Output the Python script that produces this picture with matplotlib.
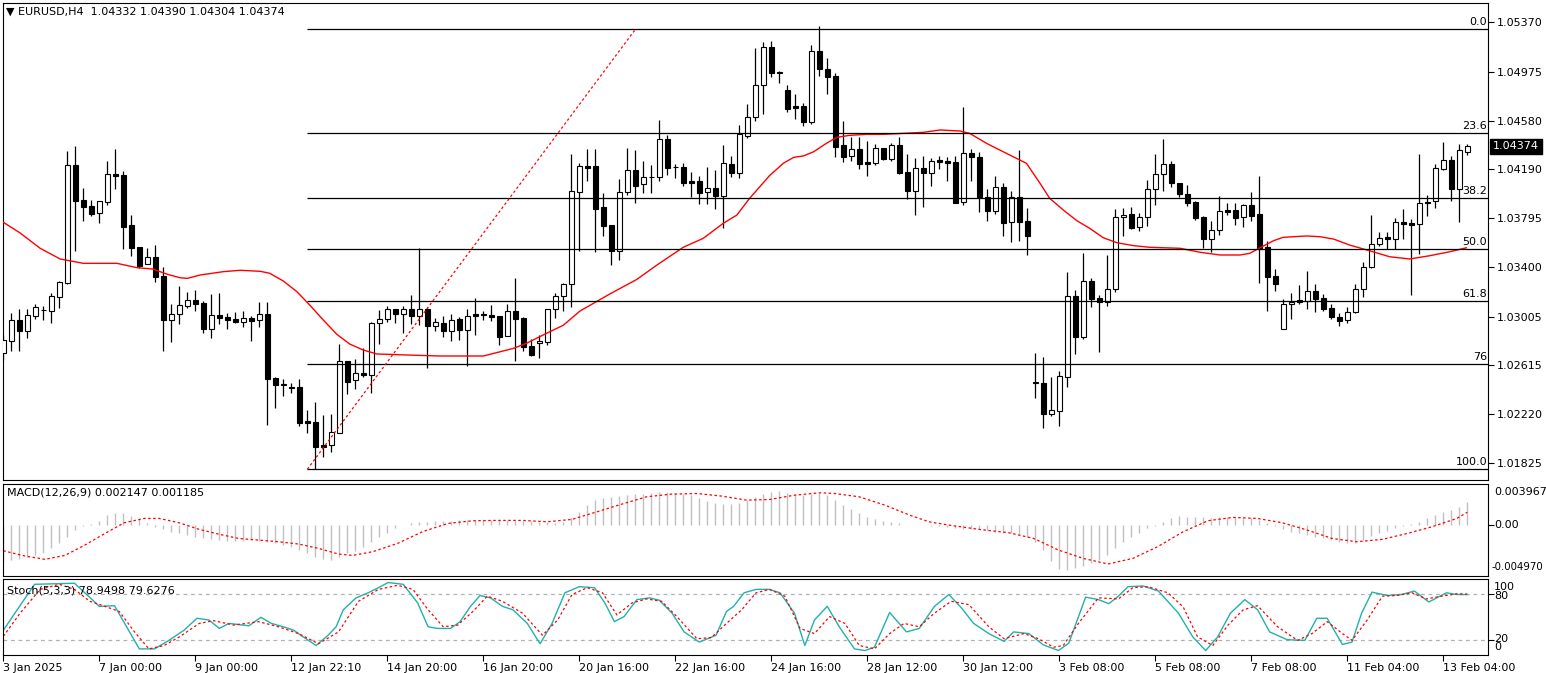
import numpy as np
import matplotlib.pyplot as plt
from matplotlib.ticker import FormatStrFormatter
from matplotlib.transforms import blended_transform_factory

plt.rcParams['font.family'] = ['DejaVu Sans']
plt.rcParams['font.size'] = 8

# EURUSD H4 candles
opens = [1.02712, 1.02810, 1.02977, 1.02891, 1.03011, 1.03058, 1.03052, 1.03165, 1.03272, 1.04223,
         1.03942, 1.03894, 1.03835, 1.03928, 1.04151, 1.04143, 1.03741, 1.03564, 1.03425, 1.03484,
         1.03331, 1.02977, 1.03023, 1.03092, 1.03136, 1.03111, 1.02907, 1.03015, 1.02999, 1.02985,
         1.02964, 1.02993, 1.02975, 1.03023, 1.02508, 1.02460, 1.02436, 1.02436, 1.02165, 1.02157,
         1.01970, 1.01970, 1.02071, 1.02645, 1.02492, 1.02551, 1.02537, 1.02951, 1.02983, 1.03063,
         1.03023, 1.03063, 1.03012, 1.03063, 1.02931, 1.02951, 1.02891, 1.02985, 1.02897, 1.03026,
         1.03023, 1.03017, 1.03009, 1.02851, 1.03050, 1.02991, 1.02768, 1.02790, 1.02803, 1.03063,
         1.03173, 1.03264, 1.04009, 1.04215, 1.04215, 1.03886, 1.03741, 1.03534, 1.04009, 1.04181,
         1.04068, 1.04127, 1.04124, 1.04430, 1.04210, 1.04207, 1.04095, 1.04095, 1.04009, 1.04036,
         1.03977, 1.04229, 1.04162, 1.04459, 1.04612, 1.04864, 1.05170, 1.04974, 1.04826, 1.04698,
         1.04698, 1.04572, 1.05138, 1.04993, 1.04939, 1.04384, 1.04298, 1.04352, 1.04248, 1.04242,
         1.04360, 1.04274, 1.04384, 1.04167, 1.04017, 1.04199, 1.04162, 1.04264, 1.04256, 1.04248,
         1.03923, 1.04317, 1.04285, 1.03969, 1.03856, 1.04044, 1.03763, 1.03964, 1.03773, 1.02476,
         1.02468, 1.02219, 1.02248, 1.02521, 1.03170, 1.02843, 1.03291, 1.03152, 1.03119, 1.03224,
         1.03803, 1.03829, 1.03722, 1.03803, 1.04028, 1.04149, 1.04229, 1.04076, 1.03988, 1.03926,
         1.03803, 1.03626, 1.03698, 1.03862, 1.03862, 1.03803, 1.03899, 1.03827, 1.03562, 1.03331,
         1.02902, 1.03103, 1.03138, 1.03132, 1.03208, 1.03154, 1.03071, 1.03004, 1.02977, 1.03039,
         1.03224, 1.03401, 1.03586, 1.03642, 1.03626, 1.03763, 1.03755, 1.03747, 1.03928, 1.03934,
         1.04191, 1.04264, 1.04033, 1.04332]
highs = [1.02857, 1.03036, 1.03066, 1.03066, 1.03106, 1.03090, 1.03192, 1.03293, 1.04336, 1.04376,
         1.04036, 1.03942, 1.03934, 1.04256, 1.04352, 1.04175, 1.03821, 1.03564, 1.03558, 1.03578,
         1.03403, 1.03106, 1.03251, 1.03200, 1.03218, 1.03130, 1.03186, 1.03194, 1.03031, 1.03042,
         1.03050, 1.03009, 1.03122, 1.03122, 1.02521, 1.02500, 1.02468, 1.02500, 1.02254, 1.02318,
         1.02211, 1.02221, 1.02784, 1.02645, 1.02664, 1.02752, 1.02961, 1.03058, 1.03090, 1.03063,
         1.03090, 1.03178, 1.03554, 1.03084, 1.02991, 1.03012, 1.03026, 1.03004, 1.03063, 1.03152,
         1.03052, 1.03098, 1.03009, 1.03106, 1.03312, 1.03004, 1.02822, 1.02857, 1.03063, 1.03197,
         1.03277, 1.04312, 1.04237, 1.04352, 1.04352, 1.03996, 1.03741, 1.04111, 1.04363, 1.04344,
         1.04256, 1.04223, 1.04585, 1.04462, 1.04231, 1.04240, 1.04165, 1.04137, 1.04210, 1.04183,
         1.04384, 1.04296, 1.04543, 1.04714, 1.05162, 1.05210, 1.05220, 1.04982, 1.04867, 1.04794,
         1.04724, 1.05188, 1.05341, 1.05086, 1.04961, 1.04577, 1.04451, 1.04451, 1.04416, 1.04392,
         1.04360, 1.04403, 1.04446, 1.04312, 1.04282, 1.04296, 1.04282, 1.04296, 1.04290, 1.04296,
         1.04692, 1.04352, 1.04330, 1.04028, 1.04135, 1.04081, 1.04014, 1.04344, 1.03876, 1.02709,
         1.02677, 1.02521, 1.02567, 1.03366, 1.03218, 1.03513, 1.03317, 1.03178, 1.03500, 1.03870,
         1.03880, 1.03888, 1.03835, 1.04103, 1.04312, 1.04432, 1.04256, 1.04076, 1.04063, 1.03934,
         1.03813, 1.03773, 1.03974, 1.03916, 1.03916, 1.03910, 1.04006, 1.04135, 1.03612, 1.03387,
         1.03146, 1.03194, 1.03259, 1.03371, 1.03264, 1.03186, 1.03106, 1.03034, 1.03084, 1.03264,
         1.03441, 1.03821, 1.03682, 1.03682, 1.03795, 1.03867, 1.03787, 1.04310, 1.03982, 1.04229,
         1.04411, 1.04298, 1.04392, 1.04390]
lows = [1.02656, 1.02730, 1.02730, 1.02835, 1.02985, 1.02977, 1.02955, 1.03076, 1.03267, 1.03534,
        1.03775, 1.03813, 1.03759, 1.03902, 1.04030, 1.03548, 1.03492, 1.03393, 1.03425, 1.03283,
        1.02730, 1.02803, 1.02947, 1.03076, 1.03050, 1.02875, 1.02835, 1.02947, 1.02907, 1.02955,
        1.02923, 1.02810, 1.02921, 1.02135, 1.02272, 1.02369, 1.02388, 1.02127, 1.02071, 1.01777,
        1.01878, 1.01918, 1.02071, 1.02385, 1.02425, 1.02521, 1.02393, 1.02787, 1.02963, 1.02955,
        1.02870, 1.02943, 1.02937, 1.02589, 1.02889, 1.02843, 1.02810, 1.02816, 1.02610, 1.02857,
        1.02977, 1.02972, 1.02776, 1.02851, 1.02650, 1.02730, 1.02688, 1.02669, 1.02776, 1.02991,
        1.03052, 1.03084, 1.03534, 1.04097, 1.03526, 1.03655, 1.03419, 1.03460, 1.03982, 1.03920,
        1.03996, 1.04001, 1.04097, 1.04143, 1.04121, 1.04057, 1.03966, 1.03907, 1.03907, 1.03872,
        1.03719, 1.04127, 1.04121, 1.04438, 1.04580, 1.04633, 1.04929, 1.04885, 1.04652, 1.04596,
        1.04539, 1.04551, 1.04941, 1.04794, 1.04290, 1.04250, 1.04258, 1.04194, 1.04135, 1.04223,
        1.04264, 1.04256, 1.04151, 1.03952, 1.03824, 1.03888, 1.04057, 1.04194, 1.04097, 1.03915,
        1.03902, 1.04097, 1.03848, 1.03775, 1.03829, 1.03655, 1.03607, 1.03615, 1.03502, 1.02353,
        1.02106, 1.02208, 1.02127, 1.02436, 1.02704, 1.02824, 1.03084, 1.02722, 1.03092, 1.03202,
        1.03655, 1.03709, 1.03695, 1.03733, 1.03902, 1.04017, 1.04049, 1.03969, 1.03896, 1.03781,
        1.03558, 1.03526, 1.03661, 1.03824, 1.03741, 1.03727, 1.03773, 1.03277, 1.03052, 1.03213,
        1.02902, 1.02985, 1.03103, 1.03068, 1.03044, 1.03050, 1.02985, 1.02929, 1.02953, 1.03031,
        1.03165, 1.03393, 1.03575, 1.03548, 1.03548, 1.03628, 1.03178, 1.03505, 1.03816, 1.03875,
        1.04183, 1.03934, 1.03763, 1.04304]
closes = [1.02816, 1.02977, 1.02891, 1.03017, 1.03079, 1.03060, 1.03170, 1.03280, 1.04223, 1.03936,
          1.03888, 1.03829, 1.03934, 1.04151, 1.04137, 1.03727, 1.03558, 1.03411, 1.03484, 1.03325,
          1.02977, 1.03023, 1.03095, 1.03136, 1.03108, 1.02907, 1.03015, 1.02996, 1.02977, 1.02964,
          1.02991, 1.02972, 1.03023, 1.02505, 1.02457, 1.02458, 1.02434, 1.02151, 1.02151, 1.01959,
          1.01959, 1.02077, 1.02645, 1.02481, 1.02549, 1.02535, 1.02951, 1.02985, 1.03063, 1.03023,
          1.03063, 1.03012, 1.03063, 1.02931, 1.02959, 1.02891, 1.02977, 1.02897, 1.03012, 1.03012,
          1.03021, 1.03001, 1.02843, 1.03050, 1.02985, 1.02762, 1.02696, 1.02808, 1.03063, 1.03170,
          1.03267, 1.04014, 1.04215, 1.04202, 1.03872, 1.03735, 1.03534, 1.04009, 1.04181, 1.04057,
          1.04124, 1.04125, 1.04430, 1.04202, 1.04208, 1.04081, 1.04081, 1.04001, 1.04036, 1.03977,
          1.04237, 1.04162, 1.04473, 1.04612, 1.04864, 1.05170, 1.04961, 1.04961, 1.04676, 1.04684,
          1.04572, 1.05138, 1.04998, 1.04933, 1.04371, 1.04290, 1.04352, 1.04231, 1.04234, 1.04360,
          1.04274, 1.04384, 1.04159, 1.04017, 1.04199, 1.04159, 1.04256, 1.04250, 1.04242, 1.03920,
          1.04317, 1.04285, 1.03964, 1.03856, 1.04044, 1.03760, 1.03969, 1.03768, 1.03655, 1.02474,
          1.02219, 1.02251, 1.02527, 1.03170, 1.02843, 1.03291, 1.03146, 1.03119, 1.03224, 1.03803,
          1.03821, 1.03714, 1.03803, 1.04028, 1.04149, 1.04229, 1.04076, 1.03988, 1.03920, 1.03800,
          1.03626, 1.03701, 1.03854, 1.03848, 1.03800, 1.03899, 1.03816, 1.03546, 1.03325, 1.03264,
          1.03106, 1.03124, 1.03119, 1.03208, 1.03148, 1.03068, 1.03004, 1.02969, 1.03039, 1.03224,
          1.03401, 1.03588, 1.03634, 1.03626, 1.03763, 1.03751, 1.03743, 1.03915, 1.03915, 1.04197,
          1.04264, 1.04033, 1.04344, 1.04374]

# moving average (red line), sampled at bar positions
ma_bars = [0, 2.1, 4.6, 7.1, 10.0, 14.2, 16.7, 18.7, 20.5, 22.1,
           23.0, 24.6, 27.5, 29.6, 32.1, 33.3, 35.0, 36.7, 38.3, 40.0,
           41.7, 43.3, 45.0, 46.7, 48.3, 50.4, 54.6, 60.0, 61.3, 63.8,
           65.4, 67.9, 70.0, 72.1, 75.8, 79.2, 81.7, 85.0, 87.5, 90.0,
           91.7, 93.3, 95.8, 97.5, 98.8, 100.0, 101.3, 102.9, 104.2, 105.8,
           107.9, 110.0, 112.5, 115.0, 117.1, 119.6, 120.8, 122.9, 125.0, 127.9,
           129.6, 130.8, 132.5, 134.2, 135.8, 137.5, 139.2, 141.3, 143.3, 147.1,
           149.6, 152.1, 154.6, 155.8, 157.1, 158.8, 160.0, 162.9, 164.6, 166.3,
           168.3, 170.8, 173.3, 175.8, 178.3, 180.8, 182.9]
ma_vals = [1.03763, 1.03677, 1.03554, 1.03468, 1.03433, 1.03433, 1.03398, 1.03387, 1.03345, 1.03317,
           1.03312, 1.03339, 1.03366, 1.03377, 1.03369, 1.03353, 1.03291, 1.03205, 1.03098, 1.02977,
           1.02862, 1.02784, 1.02736, 1.02704, 1.02701, 1.02696, 1.02688, 1.02688, 1.02709, 1.02750,
           1.02790, 1.02870, 1.02935, 1.03050, 1.03186, 1.03304, 1.03419, 1.03562, 1.03634, 1.03755,
           1.03821, 1.03956, 1.04139, 1.04237, 1.04285, 1.04296, 1.04330, 1.04398, 1.04446, 1.04462,
           1.04470, 1.04470, 1.04478, 1.04486, 1.04505, 1.04497, 1.04478, 1.04398, 1.04330, 1.04237,
           1.04076, 1.03956, 1.03862, 1.03776, 1.03715, 1.03639, 1.03599, 1.03575, 1.03562, 1.03554,
           1.03522, 1.03500, 1.03500, 1.03513, 1.03558, 1.03615, 1.03642, 1.03653, 1.03647, 1.03628,
           1.03580, 1.03534, 1.03486, 1.03468, 1.03494, 1.03526, 1.03558]

# fibonacci retracement anchors
fib_bar_low, fib_low = 38, 1.01777
fib_bar_high, fib_high = 79, 1.05313
fib_ratios = [0.0, 23.6, 38.2, 50.0, 61.8, 76.0, 100.0]
fib_labels = ['0.0', '23.6', '38.2', '50.0', '61.8', '76', '100.0']

price_ticks = [1.05370, 1.04975, 1.04580, 1.04190, 1.03795, 1.03400, 1.03005, 1.02615, 1.02220, 1.01825]
last_price = 1.04374

# MACD(12,26,9)
macd_main = [-0.00359, -0.00343, -0.00336, -0.00317, -0.00294, -0.00272, -0.00230, -0.00182, -0.00118, -0.00053,
             -0.00015, 0.00005, 0.00037, 0.00091, 0.00114, 0.00107, 0.00082, 0.00050, 0.00017, -0.00021,
             -0.00047, -0.00069, -0.00086, -0.00102, -0.00118, -0.00134, -0.00143, -0.00150, -0.00156, -0.00159,
             -0.00156, -0.00150, -0.00156, -0.00166, -0.00182, -0.00198, -0.00214, -0.00246, -0.00278, -0.00311,
             -0.00333, -0.00343, -0.00311, -0.00278, -0.00253, -0.00214, -0.00166, -0.00118, -0.00086, -0.00037,
             -0.00005, 0.00011, 0.00021, 0.00027, 0.00033, 0.00033, 0.00037, 0.00040, 0.00043, 0.00043,
             0.00043, 0.00043, 0.00040, 0.00040, 0.00037, 0.00033, 0.00030, 0.00027, 0.00024, 0.00017,
             0.00027, 0.00059, 0.00117, 0.00188, 0.00242, 0.00252, 0.00268, 0.00275, 0.00284, 0.00294,
             0.00300, 0.00307, 0.00310, 0.00310, 0.00307, 0.00300, 0.00284, 0.00252, 0.00230, 0.00204,
             0.00197, 0.00197, 0.00204, 0.00236, 0.00268, 0.00300, 0.00316, 0.00326, 0.00307, 0.00294,
             0.00284, 0.00300, 0.00307, 0.00284, 0.00236, 0.00188, 0.00146, 0.00107, 0.00075, 0.00053,
             0.00037, 0.00027, 0.00011, -0.00002, -0.00005, -0.00008, -0.00012, -0.00015, -0.00021, -0.00037,
             -0.00047, -0.00044, -0.00047, -0.00053, -0.00069, -0.00079, -0.00086, -0.00095, -0.00118, -0.00166,
             -0.00246, -0.00349, -0.00433, -0.00439, -0.00423, -0.00401, -0.00375, -0.00343, -0.00295, -0.00230,
             -0.00166, -0.00118, -0.00079, -0.00037, -0.00015, 0.00027, 0.00059, 0.00082, 0.00075, 0.00075,
             0.00069, 0.00059, 0.00069, 0.00069, 0.00069, 0.00059, 0.00059, 0.00043, 0.00017, -0.00015,
             -0.00047, -0.00069, -0.00086, -0.00102, -0.00118, -0.00134, -0.00150, -0.00166, -0.00182, -0.00175,
             -0.00150, -0.00111, -0.00086, -0.00060, -0.00037, -0.00015, 0.00005, 0.00027, 0.00059, 0.00091,
             0.00123, 0.00140, 0.00172, 0.002147]
signal_bars = [0, 2.7, 5.2, 7.7, 10.2, 12.7, 15.1, 17.6, 19.5, 22.0, 24.5, 26.9, 29.4, 31.9, 34.4,
               36.9, 39.4, 41.9, 43.7, 46.2, 49.3, 52.4, 55.6, 58.7, 61.8, 64.9, 68.0, 71.1, 74.2,
               77.3, 80.4, 83.5, 86.7, 89.8, 92.9, 95.8, 98.9, 102.1, 103.9, 107.0, 110.2, 113.3,
               115.7, 118.2, 122.0, 125.7, 128.8, 131.9, 135.0, 138.1, 141.2, 144.3, 147.5, 150.6,
               153.7, 156.8, 159.9, 163.0, 166.1, 169.2, 172.4, 175.5, 178.6, 181.7, 183.0]
signal_vals = [-0.00253, -0.00304, -0.00336, -0.00298, -0.00198, -0.00086, 0.00017, 0.00059, 0.00059,
               0.00017, -0.00047, -0.00092, -0.00134, -0.00150, -0.00166, -0.00188, -0.00230, -0.00285,
               -0.00298, -0.00262, -0.00182, -0.00069, 0.00011, 0.00037, 0.00040, 0.00040, 0.00027,
               0.00050, 0.00123, 0.00197, 0.00268, 0.00294, 0.00300, 0.00275, 0.00236, 0.00242, 0.00284,
               0.00307, 0.00300, 0.00268, 0.00188, 0.00091, 0.00027, -0.00005, -0.00047, -0.00079,
               -0.00134, -0.00246, -0.00327, -0.00381, -0.00327, -0.00214, -0.00069, 0.00037, 0.00069,
               0.00059, 0.00017, -0.00053, -0.00134, -0.00166, -0.00143, -0.00086, -0.00021, 0.00059,
               0.001185]
macd_top, macd_bottom = 0.003967, -0.004970

# Stochastic(5,3,3)
k_bars = [0.0, 3.9, 8.9, 12.0, 13.9, 17.0, 18.9, 20.7, 22.6, 24.2, 25.7, 27.0, 28.2, 30.7, 32.2,
          33.5, 35.0, 36.3, 37.5, 39.1, 40.6, 41.6, 42.5, 44.1, 45.6, 46.9, 48.1, 50.0, 51.8, 53.1,
          54.3, 55.9, 57.1, 58.4, 59.6, 60.9, 62.4, 63.7, 65.5, 67.1, 68.6, 70.2, 72.0, 73.9, 75.2,
          76.4, 77.6, 79.2, 80.8, 82.0, 83.6, 85.1, 87.0, 89.1, 90.4, 91.3, 92.6, 94.1, 95.7, 97.1,
          98.9, 100.2, 101.4, 103.0, 104.5, 106.4, 107.7, 108.9, 110.8, 112.9, 114.5, 116.4, 118.2,
          119.8, 121.3, 123.2, 125.1, 126.3, 128.2, 130.0, 131.9, 133.2, 135.3, 136.9, 138.2, 139.4,
          140.6, 142.5, 144.4, 146.9, 148.7, 150.3, 151.8, 153.4, 155.2, 156.8, 158.3, 160.5, 162.7,
          164.2, 165.5, 167.4, 168.6, 169.8, 171.1, 173.0, 174.8, 176.4, 178.2, 180.4, 181.7, 183.0]
k_vals = [32.4, 92.4, 93.8, 63.6, 64.4, 8.0, 8.0, 19.1, 32.4, 48.0, 45.8, 34.7, 41.3, 38.2, 49.3,
          41.3, 36.9, 32.4, 23.6, 12.4, 25.8, 36.9, 59.1, 74.7, 81.3, 88.0, 94.7, 92.4, 68.0, 36.9,
          34.7, 34.7, 43.6, 63.6, 77.8, 74.7, 63.6, 59.1, 41.3, 14.7, 41.3, 81.3, 89.3, 88.0, 68.0,
          43.6, 50.2, 72.4, 74.7, 71.6, 54.7, 30.2, 16.9, 25.8, 56.9, 63.6, 81.3, 85.8, 85.8, 81.3,
          54.7, 12.4, 45.8, 63.6, 36.9, 8.0, 5.8, 10.2, 55.6, 30.2, 34.7, 63.6, 79.1,
          61.3, 41.3, 28.0, 17.8, 30.2, 28.0, 13.3, 5.8, 15.6, 75.6, 72.4, 67.1, 76.9,
          89.3, 90.2, 83.6, 54.7, 23.6, 5.8, 23.6, 54.7, 72.4, 59.1, 30.2, 20.0, 19.1,
          48.0, 48.0, 13.8, 16.9, 54.7, 82.2, 77.8, 79.1, 83.6, 69.3, 81.3, 79.1, 78.9498]
d_bars = [0.0, 2.1, 4.6, 7.0, 8.9, 10.8, 12.7, 14.5, 16.4, 18.2, 20.1, 22.0, 24.5, 26.3, 28.8,
          31.9, 34.4, 36.9, 39.4, 41.9, 44.4, 46.9, 49.3, 51.2, 53.1, 55.0, 56.8, 58.7, 60.5, 62.4,
          64.9, 67.4, 69.3, 71.1, 73.0, 74.9, 76.7, 78.6, 80.4, 82.3, 84.2, 86.7, 88.5, 90.4, 92.3,
          94.1, 95.8, 97.7, 99.6, 101.4, 103.3, 105.2, 107.0, 108.9, 110.8, 112.6, 114.5, 116.4,
          118.5, 120.7, 123.2, 125.1, 127.6, 129.4, 131.3, 132.5, 134.4, 136.9, 139.4, 141.2, 143.1,
          145.6, 147.5, 149.3, 151.2, 153.1, 155.0, 156.8, 159.3, 161.8, 163.6, 165.5, 167.4, 168.6,
          170.5, 172.4, 174.2, 176.1, 177.9, 179.8, 181.7, 183.0]
d_vals = [24.4, 54.7, 85.8, 92.4, 85.8, 70.2, 63.6, 56.9, 30.2, 8.0, 12.4, 23.6, 41.3, 44.9, 39.1,
          43.6, 36.9, 28.0, 14.7, 30.2, 70.2, 85.8, 91.1, 85.8, 59.1, 36.9, 39.1, 56.9, 76.9, 70.2,
          54.7, 25.8, 45.8, 79.1, 88.0, 81.3, 52.4, 68.0, 73.3, 70.2, 50.2, 21.3, 22.7, 41.3, 59.1,
          81.3, 85.8, 76.9, 34.7, 28.0, 50.2, 41.3, 12.4, 8.0, 28.0, 41.3, 36.9, 54.7,
          70.2, 65.8, 36.9, 21.3, 28.0, 21.3, 10.2, 12.4, 41.3, 74.7, 73.3, 88.0, 89.3,
          81.3, 62.7, 23.6, 12.4, 39.1, 59.1, 64.4, 36.9, 19.1, 28.0, 43.6, 28.0, 19.1,
          45.8, 76.9, 77.8, 81.3, 73.3, 76.9, 80.0, 79.6276]

x_label_bars = list(range(0, 181, 12))
x_labels = ['3 Jan 2025', '7 Jan 00:00', '9 Jan 00:00', '12 Jan 22:10', '14 Jan 20:00',
            '16 Jan 20:00', '20 Jan 16:00', '22 Jan 16:00', '24 Jan 16:00', '28 Jan 12:00',
            '30 Jan 12:00', '3 Feb 08:00', '5 Feb 08:00', '7 Feb 08:00', '11 Feb 04:00',
            '13 Feb 04:00']

W, H = 1546, 673


def rect(x0, y0, x1, y1):
    return [x0 / W, 1 - y1 / H, (x1 - x0) / W, (y1 - y0) / H]


o = np.array(opens)
h = np.array(highs)
l = np.array(lows)
c = np.array(closes)
x = np.arange(len(c))
x_left, x_right = -0.04, 185.6

fig = plt.figure(figsize=(W / 100, H / 100), dpi=100)
fig.patch.set_facecolor('white')
ax = fig.add_axes(rect(3, 3, 1488, 480))
axm = fig.add_axes(rect(3, 483.5, 1488, 576))
axs = fig.add_axes(rect(3, 578.5, 1488, 655))

for a in (ax, axm, axs):
    a.set_xlim(x_left, x_right)
    for sp in a.spines.values():
        sp.set_linewidth(0.8)
        sp.set_color('black')

# candles
ax.vlines(x, l, h, color='black', lw=0.9, zorder=2)
body = np.maximum(np.abs(c - o), 0.00002)
fills = ['white' if cc >= oo else 'black' for oo, cc in zip(o, c)]
ax.bar(x, body, bottom=np.minimum(o, c), width=0.6, color=fills,
       edgecolor='black', linewidth=0.8, zorder=3)

ax.plot(ma_bars, ma_vals, color='red', lw=1.0, zorder=4)

# fibonacci
fib_levels = [fib_high - r / 100 * (fib_high - fib_low) for r in fib_ratios]
ax.hlines(fib_levels, fib_bar_low, x_right, color='black', lw=0.9, zorder=4)
ax.plot([fib_bar_low, fib_bar_high], [fib_low, fib_high], color='red',
        lw=0.9, ls=(0, (2, 2)), zorder=4)
for lev, lab in zip(fib_levels, fib_labels):
    ax.annotate(lab, xy=(1, lev), xycoords=('axes fraction', 'data'),
                xytext=(-1, 2), textcoords='offset pixels',
                ha='right', va='bottom', fontsize=8, zorder=5)

ax.set_ylim(1.01691, 1.05526)
ax.yaxis.tick_right()
ax.set_yticks(price_ticks)
ax.yaxis.set_major_formatter(FormatStrFormatter('%.5f'))
ax.tick_params(axis='y', length=4, width=0.8, pad=2, labelsize=8)
ax.tick_params(axis='x', length=0, labelbottom=False)
tr = blended_transform_factory(ax.transAxes, ax.transData)
ax.text(1.0035, last_price, '1.04374', transform=tr, color='white', fontsize=8,
        va='center', ha='left', zorder=6,
        bbox=dict(facecolor='black', edgecolor='black', boxstyle='square,pad=0.25'))
fig.text(6 / W, 1 - 12 / H, '\u25bc EURUSD,H4  1.04332 1.04390 1.04304 1.04374',
         fontsize=8, va='center', ha='left')

# MACD panel
axm.vlines(x, 0, macd_main, color='#c0c0c0', lw=1.0)
axm.plot(signal_bars, signal_vals, color='red', lw=0.9, ls=(0, (2, 2)))
axm.set_ylim(macd_bottom, macd_top)
axm.yaxis.tick_right()
axm.set_yticks([0])
axm.set_yticklabels([''])
axm.tick_params(axis='y', length=4, width=0.8)
axm.tick_params(axis='x', length=0, labelbottom=False)
axm.text(0.003, 0.9, 'MACD(12,26,9) 0.002147 0.001185', transform=axm.transAxes,
         fontsize=8, va='center', ha='left')
for txt, yy in [('0.003967', 492), ('0.00', 525)]:
    fig.text(1494 / W, 1 - yy / H, txt, fontsize=8, va='center', ha='left')
fig.text(1491 / W, 1 - 567 / H, '-0.004970', fontsize=7.3, va='center', ha='left')

# Stochastic panel
axs.axhline(80, color='#b0b0b0', lw=0.9, ls=(0, (3, 3)))
axs.axhline(20, color='#b0b0b0', lw=0.9, ls=(0, (3, 3)))
axs.plot(k_bars, k_vals, color='#20b2aa', lw=1.0)
axs.plot(d_bars, d_vals, color='red', lw=0.9, ls=(0, (2, 2)))
axs.set_ylim(0, 100)
axs.yaxis.tick_right()
axs.set_yticks([20, 80])
axs.set_yticklabels(['', ''])
axs.tick_params(axis='y', length=4, width=0.8)
axs.text(0.003, 0.84, 'Stoch(5,3,3) 78.9498 79.6276', transform=axs.transAxes,
         fontsize=8, va='center', ha='left')
for txt, yy in [('100', 587), ('80', 596), ('20', 639), ('0', 647)]:
    fig.text(1494 / W, 1 - yy / H, txt, fontsize=8, va='center', ha='left')

axs.set_xticks(x_label_bars)
axs.set_xticklabels(x_labels)
for lbl in axs.get_xticklabels():
    lbl.set_horizontalalignment('left')
axs.tick_params(axis='x', length=4, width=0.8, pad=2, labelsize=8)

fig.savefig('out.png', dpi=100)
